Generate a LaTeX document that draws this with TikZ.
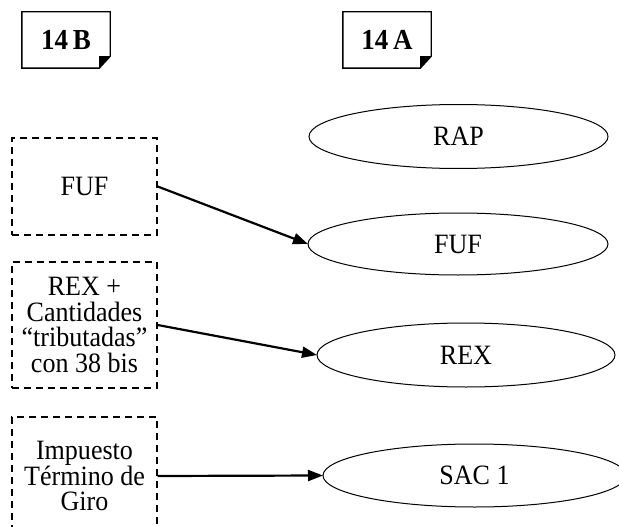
\documentclass[tikz,border=0pt]{standalone}
\usepackage{fontspec}
\setmainfont[FakeStretch=0.93]{Liberation Serif}
\usetikzlibrary{shapes.geometric,arrows.meta}

\tikzset{
  srcbox/.style={draw, dash pattern=on 7pt off 5pt, line width=1.4pt,
    minimum width=145pt, inner sep=0pt, align=center,
    font=\fontsize{28}{25.5}\selectfont},
  tgt/.style={draw, ellipse, line width=1pt, inner sep=0pt, outer sep=0pt,
    font=\fontsize{28}{26}\selectfont},
  hdr/.style={minimum width=88pt, minimum height=56pt, inner sep=0pt,
    font=\fontsize{29}{29}\selectfont\bfseries},
  flow/.style={-{Triangle[length=15pt,width=11pt]}, line width=2.2pt},
}

\begin{document}
\begin{tikzpicture}[x=1pt,y=-1pt]
  \useasboundingbox (0,0) rectangle (619,527);

  % headers
  \node[hdr] (hB) at (66,40) {14\,B};
  \node[hdr] (hA) at (387,40) {14\,A};
  \foreach \h in {hB,hA} {
    \draw[line width=1.4pt] (\h.north west) -- (\h.north east)
      -- ([yshift=12pt]\h.south east) -- ([xshift=-11pt]\h.south east)
      -- (\h.south west) -- cycle;
    \fill ([yshift=12pt]\h.south east) -- ([xshift=-11pt,yshift=12pt]\h.south east)
      -- ([xshift=-11pt]\h.south east) -- cycle;
  }

  % 14 B side
  \node[srcbox, minimum height=97pt] (fufB) at (84.5,186.5) {FUF};
  \node[srcbox, minimum height=126pt] (rexB) at (84.5,325)
    {REX +\\Cantidades\\“tributadas”\\con 38 bis};
  \node[srcbox, minimum height=118pt] (impB) at (84.5,476)
    {Impuesto\\Término de\\Giro};

  % 14 A side
  \node[tgt, minimum width=299pt, minimum height=64pt] (rapA) at (458.5,136.5) {RAP};
  \node[tgt, minimum width=300pt, minimum height=62pt] (fufA) at (458,244) {FUF};
  \node[tgt, minimum width=298pt, minimum height=64pt] (rexA) at (466,355) {REX};
  \node[tgt, minimum width=303pt, minimum height=63pt] (sacA) at (474.5,475.5) {SAC 1};

  \draw[flow] (fufB.east) -- (fufA.west);
  \draw[flow] (rexB.east) -- (rexA.west);
  \draw[flow] (impB.east) -- (sacA.west);
\end{tikzpicture}
\end{document}
